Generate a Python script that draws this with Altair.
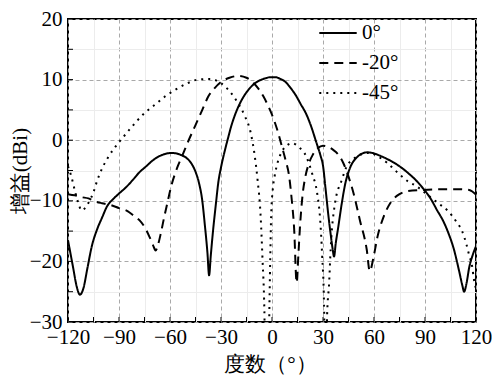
import altair as alt
import pandas as pd

# ---- data ----
deg_0 = [-120, -117, -115, -113, -111, -108.5, -106, -103, -100, -97, -93, -90, -86, -82, -78, -74, -70,
         -66, -62, -59, -56, -53, -50, -47.5, -45, -43, -41, -39.5, -38, -37, -36, -34.7, -33, -31.5, -30,
         -28, -26, -24, -22, -19, -16, -13, -10, -7, -4, -1, 2, 5, 8, 11, 14, 17, 20, 23, 26, 28.5, 30,
         31.5, 33, 34.5, 35.7, 36.5, 37.5, 39, 41, 43, 46, 50, 53, 56, 59, 63, 67, 71, 75, 80, 85, 89, 93,
         97, 101, 104, 107, 110, 112, 113, 114.5, 116, 118, 120]
gain_0 = [-16.5, -21, -24, -25.5, -24.5, -21, -17.5, -14.8, -12.8, -10.9, -9.6, -8.8, -7.8, -6.6, -5.3,
          -4.3, -3.3, -2.6, -2.2, -2.1, -2.2, -2.5, -3.0, -3.8, -5.2, -7.0, -10, -14, -18.5, -22.3, -19,
          -15, -10.5, -6.8, -4.5, -2, 0.2, 2.3, 4.0, 6.0, 7.5, 8.6, 9.4, 9.9, 10.2, 10.4, 10.4, 10.1, 9.6,
          8.6, 7.4, 5.9, 4.4, 2.3, -0.3, -2.5, -4.2, -8, -12, -15.5, -18, -19.2, -17, -14.3, -10.5, -7.3,
          -4.5, -2.8, -2.2, -2.0, -2.1, -2.5, -3.0, -3.6, -4.3, -5.4, -6.7, -8.0, -9.5, -11.5, -13.5,
          -15.5, -18, -21.5, -24, -25, -23.5, -21, -19, -17.5]

deg_20 = [-120, -116, -112, -108, -104, -100, -95, -90, -85, -82, -78, -75, -72, -70, -68.5, -67, -65.5,
          -63.5, -61.5, -59.3, -57, -55, -53, -49, -45, -41, -37.5, -34, -30, -25, -20, -15, -11, -8, -5,
          -2.5, 0, 3, 6, 8, 10, 11.5, 13, 14.5, 15.5, 16.6, 18, 19.5, 21.5, 24, 27, 30, 33, 36, 38.5, 42,
          45, 48, 51.7, 55.7, 57.5, 59.8, 62, 65.7, 70, 75, 80, 89, 100, 110, 116, 118, 120]
gain_20 = [-8.9, -9.1, -9.4, -9.6, -10.1, -10.4, -10.7, -11.2, -11.7, -12.3, -13.2, -14.3, -16, -17.3,
           -18.2, -17.2, -15.5, -12.8, -10.3, -7.6, -5.5, -4, -2.7, 0, 2.5, 5, 7.2, 8.5, 9.6, 10.3, 10.6,
           10.3, 9.5, 8.5, 7.2, 5.8, 4.2, 1.8, -1.2, -3.3, -5.8, -9.5, -14.5, -23.5, -19, -13.7, -9, -6.2,
           -4, -2.4, -1.3, -0.9, -1.1, -1.6, -2.2, -3.8, -6, -8.8, -13.2, -18, -21.6, -19.2, -16, -12.6,
           -10.2, -8.9, -8.4, -8.2, -8.1, -8.1, -8.2, -8.5, -9]

deg_45 = [-120, -118, -116, -114, -112, -110, -107.7, -104.8, -103, -100, -97, -93, -89, -84, -79.7,
          -74.5, -68.6, -63, -57, -50.5, -43.5, -36.5, -30, -25, -20, -16, -12.5, -10.2, -8.5, -6.7, -5.6,
          -4.5, -3.8, -2.2, -1.5, -1, -0.5, 0.5, 1.5, 3.2, 6, 9, 12, 16, 20, 23.6, 26.6, 28.3, 29.5, 30.6,
          31.3, 31.8, 32.4, 33.6, 34.5, 37, 41, 44, 48, 53, 57.5, 63, 68, 74.5, 80, 85, 90, 97.8, 103.6,
          108.3, 111.8, 114.2, 116, 117.7, 118.8, 120]
gain_45 = [-4.3, -6, -8.3, -10.3, -11.6, -11.2, -10.2, -8.4, -6.8, -4.7, -3.1, -1.4, 0, 1.7, 3.1, 4.6,
           5.9, 7.2, 8.3, 9.3, 10, 10.1, 9.4, 8.1, 6.1, 4, 1.2, -2.5, -6.5, -12.5, -19.5, -28, -40, -40,
           -27, -19, -12.5, -8, -6, -3.8, -1.8, -0.8, -0.5, -1.2, -2.6, -5.5, -8.8, -13, -19, -27, -40,
           -40, -29, -23.6, -18, -10.5, -6.6, -4.3, -3.1, -2.3, -2.1, -2.8, -3.8, -5.5, -6.8, -7.6, -8.7,
           -10.4, -11.7, -13.4, -15, -17, -19, -20.8, -23, -24.5]

series_names = ["0°", "-20°", "-45°"]
x_ticks = list(range(-120, 121, 15))
y_ticks = list(range(-30, 21, 5))

rows = []
for name, xs, ys in zip(series_names, [deg_0, deg_20, deg_45], [gain_0, gain_20, gain_45]):
    for i, (a, b) in enumerate(zip(xs, ys)):
        rows.append({"deg": a, "gain": b, "series": name, "order": i})
df = pd.DataFrame(rows)

FONT = "Liberation Serif, Times New Roman, Tinos, DejaVu Serif, serif"
FS = 21

xscale = alt.Scale(domain=[-120, 120], nice=False, zero=False)
yscale = alt.Scale(domain=[-30, 20], nice=False, zero=False)

x_axis = alt.Axis(
    values=x_ticks,
    labelExpr="datum.value % 30 === 0 ? datum.label : ''",
    title="度数（°）",
    grid=True,
    gridDash={"condition": {"test": "datum.value % 30 === 0", "value": [4, 3]}, "value": []},
    gridColor={"condition": {"test": "datum.value % 30 === 0", "value": "#a9a9a9"}, "value": "#ececec"},
    gridWidth=1,
    ticks=False,
    domain=False,
    labelFont=FONT, labelFontSize=FS, labelColor="black", labelPadding=4,
    labelFlush=False, labelOverlap=False,
    titleFont=FONT, titleFontSize=FS, titleFontWeight="normal", titleColor="black",
    titleX=202, titleY=42, titleBaseline="middle", titleAlign="center",
)
y_axis = alt.Axis(
    values=y_ticks,
    labelExpr="datum.value % 10 === 0 ? datum.label : ''",
    title="增益(dBi)",
    grid=True,
    gridDash={"condition": {"test": "datum.value % 10 === 0", "value": [4, 3]}, "value": []},
    gridColor={"condition": {"test": "datum.value % 10 === 0", "value": "#a9a9a9"}, "value": "#ececec"},
    gridWidth=1,
    ticks=False,
    domain=False,
    labelFont=FONT, labelFontSize=FS, labelColor="black", labelPadding=6,
    labelFlush=False, labelOverlap=False, labelBaseline="middle",
    titleFont=FONT, titleFontSize=FS, titleFontWeight="normal", titleColor="black",
    titleX=-48, titleY=151.5, titleBaseline="middle", titleAlign="center", titleAngle=270,
)

lines = alt.Chart(df).mark_line(color="black", strokeWidth=2, interpolate="monotone", clip=True).encode(
    x=alt.X("deg:Q", scale=xscale, axis=x_axis),
    y=alt.Y("gain:Q", scale=yscale, axis=y_axis),
    strokeDash=alt.StrokeDash(
        "series:N",
        scale=alt.Scale(domain=series_names, range=[[1, 0], [9, 6], [2, 5]]),
        legend=alt.Legend(
            title=None, orient="none", legendX=250, legendY=-6,
            symbolType="stroke", symbolSize=1400, symbolStrokeWidth=2, symbolStrokeColor="black",
            labelFont=FONT, labelFontSize=FS, labelColor="black", labelOffset=4,
            rowPadding=-14, padding=0,
        ),
    ),
    order="order:Q",
)

xt_df = pd.DataFrame({"t": x_ticks})
yt_df = pd.DataFrame({"t": y_ticks})
xticks = alt.Chart(xt_df).mark_rule(color="black", strokeWidth=1).encode(
    x=alt.X("t:Q", scale=xscale, axis=x_axis),
    y=alt.value(303), y2=alt.value(298),
)
yticks = alt.Chart(yt_df).mark_rule(color="black", strokeWidth=1).encode(
    y=alt.Y("t:Q", scale=yscale, axis=y_axis),
    x=alt.value(0), x2=alt.value(5),
)

chart = alt.layer(xticks, yticks, lines).properties(
    width=408, height=303,
    autosize=alt.AutoSizeParams(type="none"),
    padding={"left": 60, "top": 11, "right": 16, "bottom": 53},
).configure(font=FONT).configure_view(stroke="black", strokeWidth=2)

chart.save("out.html", embed_options={"renderer": "svg", "actions": False})
